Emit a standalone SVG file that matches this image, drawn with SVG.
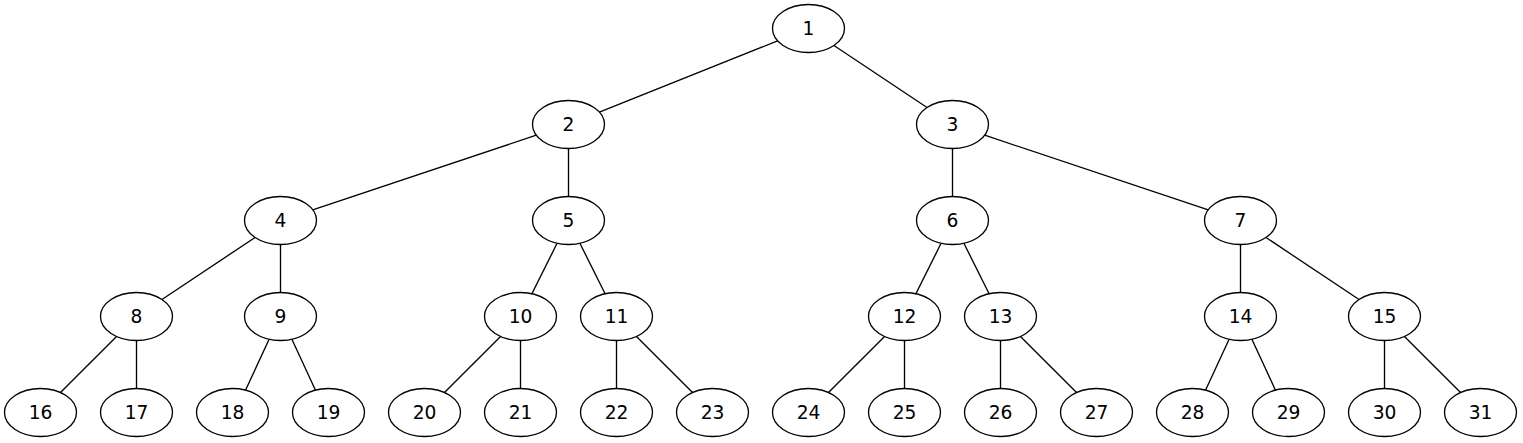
<svg xmlns="http://www.w3.org/2000/svg" width="1523" height="443" viewBox="0 0 1523 443">
<style>
.n ellipse{fill:#ffffff;stroke:#000000;stroke-width:1.33}
.n text{font-family:"DejaVu Sans","Liberation Sans",sans-serif;font-size:18.67px;fill:#000000;text-anchor:middle}
#edges line{stroke:#000000;stroke-width:1.33}
</style>
<rect width="1523" height="443" fill="#ffffff"/>
<g id="edges">
<line x1="777.63" y1="40.85" x2="599.37" y2="112.15"/>
<line x1="833.96" y1="45.47" x2="927.04" y2="107.53"/>
<line x1="536.3" y1="135.23" x2="312.7" y2="209.77"/>
<line x1="568.5" y1="148.5" x2="568.5" y2="196.5"/>
<line x1="952.5" y1="148.5" x2="952.5" y2="196.5"/>
<line x1="984.7" y1="135.23" x2="1208.3" y2="209.77"/>
<line x1="255.04" y1="237.47" x2="161.96" y2="299.53"/>
<line x1="280.5" y1="244.5" x2="280.5" y2="292.5"/>
<line x1="557.11" y1="243.27" x2="531.89" y2="293.73"/>
<line x1="579.89" y1="243.27" x2="605.11" y2="293.73"/>
<line x1="941.11" y1="243.27" x2="915.89" y2="293.73"/>
<line x1="963.89" y1="243.27" x2="989.11" y2="293.73"/>
<line x1="1240.5" y1="244.5" x2="1240.5" y2="292.5"/>
<line x1="1265.96" y1="237.47" x2="1359.04" y2="299.53"/>
<line x1="116.53" y1="336.47" x2="60.47" y2="392.53"/>
<line x1="136.5" y1="340.5" x2="136.5" y2="388.5"/>
<line x1="269.11" y1="339.27" x2="243.89" y2="393.73"/>
<line x1="291.89" y1="339.27" x2="317.11" y2="393.73"/>
<line x1="500.53" y1="336.47" x2="444.47" y2="392.53"/>
<line x1="520.5" y1="340.5" x2="520.5" y2="388.5"/>
<line x1="616.5" y1="340.5" x2="616.5" y2="388.5"/>
<line x1="636.47" y1="336.47" x2="692.53" y2="392.53"/>
<line x1="884.53" y1="336.47" x2="828.47" y2="392.53"/>
<line x1="904.5" y1="340.5" x2="904.5" y2="388.5"/>
<line x1="1000.5" y1="340.5" x2="1000.5" y2="388.5"/>
<line x1="1020.47" y1="336.47" x2="1076.53" y2="392.53"/>
<line x1="1229.11" y1="339.27" x2="1203.89" y2="393.73"/>
<line x1="1251.89" y1="339.27" x2="1277.11" y2="393.73"/>
<line x1="1384.5" y1="340.5" x2="1384.5" y2="388.5"/>
<line x1="1404.47" y1="336.47" x2="1460.53" y2="392.53"/>
</g>
<g id="node1" class="n"><ellipse cx="808.5" cy="28.5" rx="36" ry="24"/><text x="808.5" y="35">1</text></g>
<g id="node2" class="n"><ellipse cx="568.5" cy="124.5" rx="36" ry="24"/><text x="568.5" y="131">2</text></g>
<g id="node3" class="n"><ellipse cx="952.5" cy="124.5" rx="36" ry="24"/><text x="952.5" y="131">3</text></g>
<g id="node4" class="n"><ellipse cx="280.5" cy="220.5" rx="36" ry="24"/><text x="280.5" y="227">4</text></g>
<g id="node5" class="n"><ellipse cx="568.5" cy="220.5" rx="36" ry="24"/><text x="568.5" y="227">5</text></g>
<g id="node6" class="n"><ellipse cx="952.5" cy="220.5" rx="36" ry="24"/><text x="952.5" y="227">6</text></g>
<g id="node7" class="n"><ellipse cx="1240.5" cy="220.5" rx="36" ry="24"/><text x="1240.5" y="227">7</text></g>
<g id="node8" class="n"><ellipse cx="136.5" cy="316.5" rx="36" ry="24"/><text x="136.5" y="323">8</text></g>
<g id="node9" class="n"><ellipse cx="280.5" cy="316.5" rx="36" ry="24"/><text x="280.5" y="323">9</text></g>
<g id="node10" class="n"><ellipse cx="520.5" cy="316.5" rx="36" ry="24"/><text x="520.5" y="323">10</text></g>
<g id="node11" class="n"><ellipse cx="616.5" cy="316.5" rx="36" ry="24"/><text x="616.5" y="323">11</text></g>
<g id="node12" class="n"><ellipse cx="904.5" cy="316.5" rx="36" ry="24"/><text x="904.5" y="323">12</text></g>
<g id="node13" class="n"><ellipse cx="1000.5" cy="316.5" rx="36" ry="24"/><text x="1000.5" y="323">13</text></g>
<g id="node14" class="n"><ellipse cx="1240.5" cy="316.5" rx="36" ry="24"/><text x="1240.5" y="323">14</text></g>
<g id="node15" class="n"><ellipse cx="1384.5" cy="316.5" rx="36" ry="24"/><text x="1384.5" y="323">15</text></g>
<g id="node16" class="n"><ellipse cx="40.5" cy="412.5" rx="36" ry="24"/><text x="40.5" y="419">16</text></g>
<g id="node17" class="n"><ellipse cx="136.5" cy="412.5" rx="36" ry="24"/><text x="136.5" y="419">17</text></g>
<g id="node18" class="n"><ellipse cx="232.5" cy="412.5" rx="36" ry="24"/><text x="232.5" y="419">18</text></g>
<g id="node19" class="n"><ellipse cx="328.5" cy="412.5" rx="36" ry="24"/><text x="328.5" y="419">19</text></g>
<g id="node20" class="n"><ellipse cx="424.5" cy="412.5" rx="36" ry="24"/><text x="424.5" y="419">20</text></g>
<g id="node21" class="n"><ellipse cx="520.5" cy="412.5" rx="36" ry="24"/><text x="520.5" y="419">21</text></g>
<g id="node22" class="n"><ellipse cx="616.5" cy="412.5" rx="36" ry="24"/><text x="616.5" y="419">22</text></g>
<g id="node23" class="n"><ellipse cx="712.5" cy="412.5" rx="36" ry="24"/><text x="712.5" y="419">23</text></g>
<g id="node24" class="n"><ellipse cx="808.5" cy="412.5" rx="36" ry="24"/><text x="808.5" y="419">24</text></g>
<g id="node25" class="n"><ellipse cx="904.5" cy="412.5" rx="36" ry="24"/><text x="904.5" y="419">25</text></g>
<g id="node26" class="n"><ellipse cx="1000.5" cy="412.5" rx="36" ry="24"/><text x="1000.5" y="419">26</text></g>
<g id="node27" class="n"><ellipse cx="1096.5" cy="412.5" rx="36" ry="24"/><text x="1096.5" y="419">27</text></g>
<g id="node28" class="n"><ellipse cx="1192.5" cy="412.5" rx="36" ry="24"/><text x="1192.5" y="419">28</text></g>
<g id="node29" class="n"><ellipse cx="1288.5" cy="412.5" rx="36" ry="24"/><text x="1288.5" y="419">29</text></g>
<g id="node30" class="n"><ellipse cx="1384.5" cy="412.5" rx="36" ry="24"/><text x="1384.5" y="419">30</text></g>
<g id="node31" class="n"><ellipse cx="1480.5" cy="412.5" rx="36" ry="24"/><text x="1480.5" y="419">31</text></g>
</svg>
